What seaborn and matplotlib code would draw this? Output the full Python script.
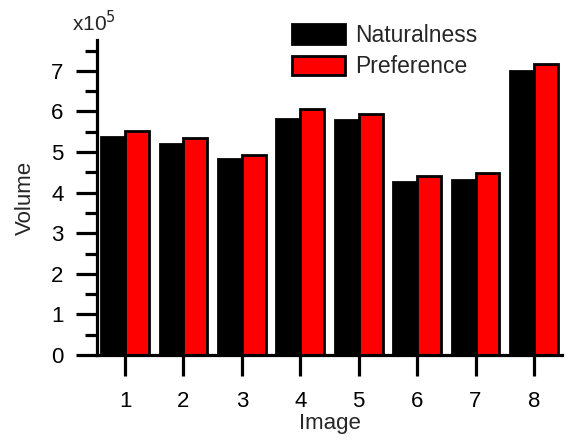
import numpy as np
import pandas as pd
import seaborn as sns
import matplotlib.pyplot as plt
from matplotlib.ticker import MultipleLocator

# volume values in units of 1e5
images = ['1', '2', '3', '4', '5', '6', '7', '8']
naturalness = [5.38, 5.19, 4.83, 5.81, 5.80, 4.27, 4.30, 7.00]
preference = [5.52, 5.35, 4.93, 6.06, 5.93, 4.41, 4.48, 7.18]
series = ['Naturalness', 'Preference']

df = pd.DataFrame({
    'Image': images * 2,
    'Volume': naturalness + preference,
    'Series': [series[0]] * len(images) + [series[1]] * len(images),
})

sns.set_style('ticks')
plt.rcParams['font.family'] = ['Liberation Sans', 'DejaVu Sans']

fig = plt.figure(figsize=(5.69, 4.43), dpi=100)
ax = fig.add_axes([97 / 569, 1 - 355 / 443, 465 / 569, 315 / 443])

sns.barplot(data=df, x='Image', y='Volume', hue='Series',
            palette=['#000000', '#ff0000'], saturation=1,
            edgecolor='black', linewidth=2, width=0.82, ax=ax)

ax.set_xlim(-0.48, 7.48)
ax.set_ylim(0, 7.76)
ax.yaxis.set_major_locator(MultipleLocator(1))
ax.yaxis.set_minor_locator(MultipleLocator(0.5))
ax.tick_params(axis='both', which='major', length=15, width=2.3, labelsize=16,
               color='black', labelcolor='black')
ax.tick_params(axis='y', which='minor', length=8.5, width=2.3, color='black')
ax.tick_params(axis='x', pad=11)
ax.tick_params(axis='y', pad=9)
for s in ['left', 'bottom']:
    ax.spines[s].set_linewidth(2.3)
    ax.spines[s].set_color('black')
sns.despine(ax=ax)

ax.set_xlabel('Image', fontsize=16, labelpad=1)
ax.set_ylabel('Volume', fontsize=16, labelpad=11)

fig.text(72 / 569, 1 - 31 / 443, r'x10$^5$', fontsize=15, va='baseline', ha='left')

ax.legend(loc='upper left', bbox_to_anchor=(0.419, 1.05), frameon=False,
          fontsize=16.5, borderpad=0, borderaxespad=0, handlelength=2.3,
          handleheight=0.95, handletextpad=0.45, labelspacing=0.35)

fig.savefig('out.png', dpi=100)
